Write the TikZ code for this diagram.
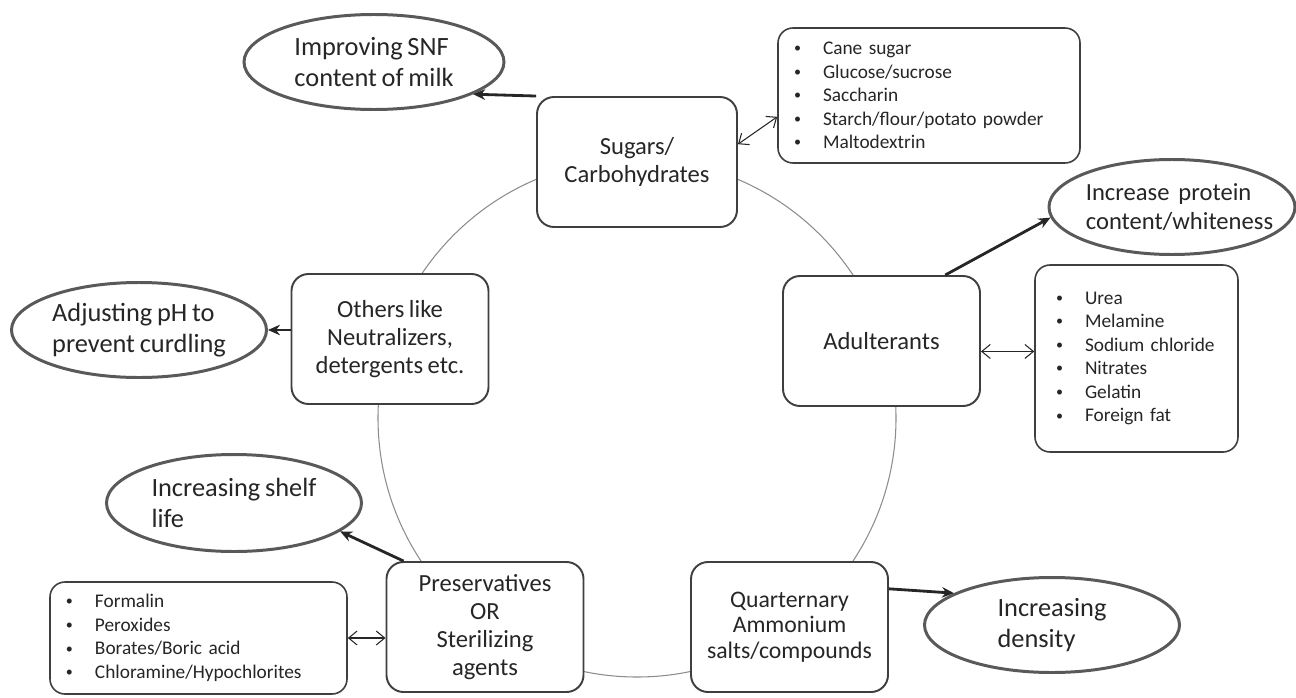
\documentclass[tikz,border=0pt]{standalone}
\usepackage{fontspec}
\setmainfont{Carlito}[WordSpace=0.8]
\usepackage{tikz}
\usetikzlibrary{arrows.meta,shapes.geometric}
\definecolor{adink}  {HTML}{262626}
\definecolor{adframe}{HTML}{3F3F3F}
\definecolor{adoval} {HTML}{595959}
\definecolor{adgrey} {HTML}{8C8C8C}
\newcommand{\adbul}[1]{\makebox[5.8mm][l]{\raisebox{0.2ex}{\fontsize{8}{8}\selectfont\textbullet}}#1}
\tikzset{
  adbox/.style={draw=adframe, line width=1.1pt, fill=white, rounded corners=3.4mm,
                text=adink, align=center, inner sep=0pt, minimum width=39.4mm,
                minimum height=26mm, font=\fontsize{14}{16}\selectfont},
  adlist/.style={draw=adframe, line width=0.9pt, fill=white, rounded corners=3mm,
                 text=adink, align=left, inner ysep=0pt,
                 font=\fontsize{11}{13.4}\selectfont},
  adgoal/.style={ellipse, draw=adoval, line width=1.7pt, fill=white, text=adink,
                 align=left, inner xsep=-4mm, inner ysep=-2mm, minimum width=51mm,
                 minimum height=19mm, font=\fontsize{15}{18}\selectfont},
  adring/.style={draw=adgrey, line width=0.6pt},
  adeffect/.style={-{Stealth[length=2.4mm,width=2.1mm]}, draw=adink, line width=1.6pt},
  adlink/.style={{Straight Barb[length=1.7mm,width=2.8mm]}-{Straight Barb[length=1.7mm,width=2.8mm]},
                 draw=adink, line width=0.6pt},
}
\begin{document}
\begin{tikzpicture}[x=0.2mm,y=-0.2mm]
  \useasboundingbox (0,0) rectangle (1296,698);
  \draw[adring] (637,418) circle[radius=259];

  \node[adbox, minimum width=40mm] (sug) at (637,162) {Sugars/\\Carbohydrates};
  \node[adbox] (adu) at (881.5,341) {Adulterants};
  \node[adbox] (oth) at (390,339) {Others like\\Neutralizers,\\detergents etc.};
  \node[adbox] (pre) at (485,627) {Preservatives\\OR\\Sterilizing\\agents};
  \node[adbox, font=\fontsize{13.5}{14.5}\selectfont] (qua) at (789.5,627)
    {Quarternary\\Ammonium\\salts/compounds};

  \node[adlist, inner xsep=3.2mm, text width=54mm, minimum height=27mm] (sls) at (929,95.5)
    {\adbul{Cane sugar}\\\adbul{Glucose/sucrose}\\\adbul{Saccharin}\\
     \adbul{Starch/flour/potato powder}\\\adbul{Maltodextrin}};
  \node[adlist, inner xsep=4.2mm, text width=32.2mm, minimum height=37.4mm] (als) at (1136.5,358.5)
    {\adbul{Urea}\\\adbul{Melamine}\\\adbul{Sodium chloride}\\\adbul{Nitrates}\\
     \adbul{Gelatin}\\\adbul{Foreign fat}};
  \node[adlist, inner xsep=3.2mm, text width=53mm, minimum height=22.4mm] (pls) at (198.5,638)
    {\adbul{Formalin}\\\adbul{Peroxides}\\\adbul{Borates/Boric acid}\\
     \adbul{Chloramine/Hypochlorites}};

  \node[adgoal, minimum width=52mm] (snf) at (374,62) {Improving SNF\\content of milk};
  \node[adgoal, minimum width=49.2mm, font=\fontsize{14}{17}\selectfont] (pro) at (1172,207)
    {\hspace*{3mm}Increase\ \ protein\\\hspace*{3mm}content/whiteness};
  \node[adgoal] (adj) at (139,330) {Adjusting pH to\\prevent curdling};
  \node[adgoal, minimum height=19.4mm] (she) at (234,503) {Increasing shelf\\life};
  \node[adgoal] (den) at (1052,625) {Increasing\\density};

  \draw[adeffect] (sug.north west) -- (snf.-18);
  \draw[adeffect] (adu.46) -- (pro.185);
  \draw[adeffect] (adj.east -| oth.west) -- (adj.east);
  \draw[adeffect] (pre.141) -- (she.-15);
  \draw[adeffect] (qua.21) -- (den.162);
  \draw[adlink] (sug.10) -- (sls.188);
  \draw[adlink] (adu.-6) -- (adu.-6 -| als.west);
  \draw[adlink] (pls.east) -- (pls.east -| pre.west);
\end{tikzpicture}
\end{document}
